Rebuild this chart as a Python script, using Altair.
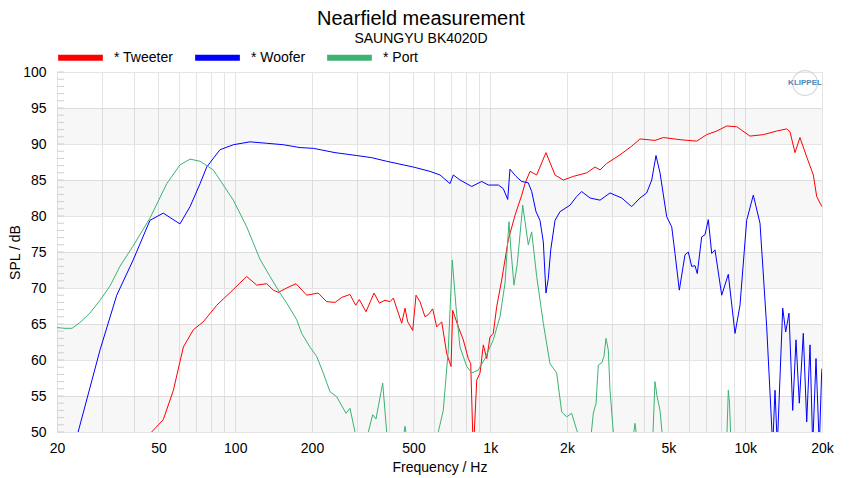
import altair as alt
import pandas as pd

# ---------------- data ----------------
TWEETER_F = [46.3, 47.0, 52.2, 57.2, 62.6, 68.5, 74.9, 84.6, 98.3, 110.9, 121.4, 132.9, 141.0, 147.5,
             159.2, 173.1, 190.6, 211.6, 228.3, 246.2, 261.6, 281.8, 296.8, 306.6, 325.6, 350.2, 367.3,
             386.6, 404.6, 416.8, 449.6, 463.2, 474.6, 496.6, 511.6, 530.2, 554.8, 571.6, 594.8, 616.6,
             645.2, 675, 701.8, 712.6, 749.4, 784, 820.2, 838.4, 858.2, 885.2, 912, 939.6, 968.8, 997.8,
             1028, 1060, 1109, 1177, 1251, 1329, 1369, 1432, 1521, 1654, 1795, 1934, 2118, 2391, 2577,
             2695, 2862, 3228, 3587, 3866, 4426, 4772, 5548, 6450, 7060, 7730, 8460, 9260, 10440, 11776,
             13288, 14540, 14980, 15672, 16394, 17420, 18492, 19066, 19644, 20000]
TWEETER_DB = [48, 50, 51.7, 55.8, 61.8, 64.2, 65.3, 67.6, 69.8, 71.6, 70.4, 70.6, 69.7, 69.4,
              70.0, 70.6, 69.0, 69.3, 68.1, 68.0, 68.7, 69.1, 67.6, 68.4, 66.7, 69.3, 67.9,
              68.3, 68.1, 68.6, 65.1, 67.2, 65.3, 64.1, 69.0, 68.1, 66.0, 66.3, 67.1, 64.6,
              65.3, 60.9, 59.1, 66.9, 64.6, 62.8, 60.2, 59.5, 47, 57.2, 58.2, 62.1, 60.2, 63.2,
              63.7, 67.4, 71.1, 76.7, 80.1, 82.9, 84.5, 86.2, 85.7, 88.8, 85.7, 85.0, 85.5, 86.0, 86.8,
              86.4, 87.3, 88.5, 89.7, 90.7, 90.5, 90.9, 90.6, 90.4, 91.3, 91.8, 92.5, 92.4, 91.1, 91.3,
              91.8, 92.1, 91.7, 88.8, 90.9, 88.2, 85.7, 82.7, 81.8, 81.3]

WOOFER_F = [22.5, 24.2, 29.5, 34.3, 39.8, 46.3, 52.2, 60.7, 66.5, 72.8, 77.3, 87.1, 98.3, 114.3, 132.9,
            154.4, 179.5, 202.4, 246.2, 299.4, 343.0, 392.6, 442.8, 499.3, 580.4, 635.4, 695.4, 716.4,
            761, 846, 925.8, 982.6, 1076, 1125, 1171, 1195, 1262, 1329, 1410, 1454, 1512, 1567, 1615,
            1654, 1689, 1727, 1795, 1877, 2055, 2182, 2283, 2462, 2695, 2949, 3278, 3587, 3866, 4107,
            4298, 4467, 4632, 4920, 5148, 5304, 5514, 5803, 5980, 6166, 6354, 6486, 6748, 6954, 7164,
            7388, 7610, 8086, 8582, 9118, 9537, 10132, 10756, 11426, 12138, 12816, 13084, 13358, 14026,
            14410, 14848, 15352, 15814, 16294, 16894, 17420, 17950, 18390, 18946, 19518, 19946, 20000]
WOOFER_DB = [46.5, 50, 61.4, 69.0, 73.9, 79.4, 80.4, 78.9, 81.3, 84.5, 86.8, 89.2, 89.9, 90.3, 90.1,
             89.9, 89.5, 89.4, 88.8, 88.4, 88.1, 87.6, 87.2, 86.8, 86.2, 85.7, 84.5, 85.7,
             85.0, 84.1, 84.8, 84.3, 84.3, 83.8, 82.3, 86.5, 85.5, 84.8, 84.6, 83.4, 80.6, 79.4, 76.4,
             69.3, 71.3, 75.3, 79.4, 80.6, 81.5, 82.7, 83.4, 82.5, 82.2, 83.2, 82.5, 81.3, 82.5, 83.2,
             85.0, 88.4, 86.0, 79.9, 78.5, 74.8, 69.7, 74.6, 75.0, 73.0, 73.1, 72.0, 77.1, 77.4, 79.5,
             74.8, 75.3, 69.0, 71.9, 63.7, 67.6, 79.4, 82.9, 79.0, 64.6, 48, 55.8, 48, 67.2,
             63.9, 66.5, 53.0, 62.8, 54.0, 63.7, 51.4, 62.1, 48, 60.2, 48, 58.4, 58.8]

PORT_F = [20.0, 21.5, 22.9, 24.6, 26.9, 29.5, 32.3, 35.3, 39.7, 46.3, 53.9, 60.7, 66.5, 72.8, 82.0,
          98.3, 110.9, 125.0, 136.9, 149.8, 159.2, 174.2, 182.2, 196.4, 208.6, 221.4, 235.2, 250.0,
          271.8, 281.8, 294.9, 308.6, 332.6, 346.0, 356.4, 378.7, 392.6, 412, 450.8, 463.2, 476, 530,
          625.6, 654.4, 684.6, 709.8, 734, 761, 808.8, 846, 897, 953.8, 1028, 1092, 1143, 1184, 1203,
          1239, 1277, 1341, 1410, 1454, 1521, 1615, 1715, 1822, 1906, 1994, 2086, 2182, 2248, 2354,
          2462, 2536, 2600, 2654, 2736, 2793, 2844, 2904, 2949, 3038, 3228, 3597, 3696, 3796, 4156,
          4349, 4426, 4508, 4632, 4716, 5068, 7962, 8484, 8582, 8678, 8756, 9118]
PORT_DB = [64.5, 64.4, 64.4, 65.2, 66.5, 68.3, 70.3, 73.0, 75.8, 79.7, 84.5, 87.1, 87.9, 87.6, 86.4,
           82.2, 78.5, 74.0, 71.6, 69.3, 67.9, 65.6, 63.7, 61.8, 60.5, 58.2, 55.6, 54.9,
           52.6, 53.3, 50, 45, 50, 52.4, 51.8, 56.8, 50, 45, 48, 50.8, 48, 45,
           50, 53, 61.4, 73.9, 67.4, 61.8, 59.1, 58.2, 58.6, 60.2, 62.8, 66.0, 70.7, 79.2, 75.7,
           70.4, 73.4, 81.5, 76.0, 77.8, 71.6, 65.1, 59.5, 58.2, 52.8, 52.1, 52.6, 50.3, 49, 45,
           48, 52.6, 54, 59.3, 59.6, 60.5, 63, 61.4, 55.8, 50, 45, 48, 51.2, 48, 45,
           50, 57, 55, 53, 50, 45, 45, 50, 55.8, 54, 50, 45]

SERIES = ["* Tweeter", "* Woofer", "* Port"]
COLORS = ["#ff0000", "#0000ff", "#3cb371"]

GRID_F = [20, 30, 40, 50, 60, 70, 80, 90, 100, 200, 300, 400, 500, 600, 700, 800, 900,
          1000, 2000, 3000, 4000, 5000, 6000, 7000, 8000, 9000, 10000, 20000]
LABEL_F = [20, 50, 100, 200, 500, 1000, 2000, 5000, 10000, 20000]
Y_TICKS = list(range(50, 101, 5))
MINOR_Y = list(range(50, 101, 1))
BAND_LO = [50, 60, 70, 80, 90]

# ---------------- build tables ----------------
rows = []
for name, fs, dbs in [(SERIES[0], TWEETER_F, TWEETER_DB),
                      (SERIES[1], WOOFER_F, WOOFER_DB),
                      (SERIES[2], PORT_F, PORT_DB)]:
    assert len(fs) == len(dbs), name
    for f, d in zip(fs, dbs):
        rows.append({"freq": f, "spl": d, "series": name})
df = pd.DataFrame(rows)
bands = pd.DataFrame({"lo": BAND_LO, "hi": [b + 5 for b in BAND_LO]})
minor = pd.DataFrame({"v": MINOR_Y})

W, H = 765, 360
FONT = "Liberation Sans"

x_scale = alt.Scale(type="log", domain=[20, 20000], nice=False)
y_scale = alt.Scale(domain=[50, 100], nice=False)

label_list = "[" + ",".join(str(v) for v in LABEL_F) + "]"
label_expr = (f"indexof({label_list}, datum.value) >= 0 ? "
              "(datum.value >= 1000 ? (datum.value/1000) + 'k' : datum.value + '') : ''")

x_axis = alt.Axis(values=GRID_F, labelExpr=label_expr, title="Frequency / Hz",
                  grid=True, gridColor="#e4e4e4", ticks=False, domain=False,
                  labelFontSize=14, titleFontSize=14, labelFont=FONT, titleFont=FONT,
                  labelColor="#000", titleColor="#000", titleFontWeight="normal",
                  labelPadding=9, titlePadding=5, labelFlush=False, labelOverlap=False)
y_axis = alt.Axis(values=Y_TICKS, title="SPL / dB", grid=True, gridColor="#e4e4e4",
                  ticks=False, domain=False, labelFontSize=14, titleFontSize=14,
                  labelFont=FONT, titleFont=FONT, labelColor="#000", titleColor="#000",
                  titleFontWeight="normal", labelPadding=11, titlePadding=0)

band_layer = alt.Chart(bands).mark_rect(color="#000000", opacity=0.03).encode(
    x=alt.value(0), x2=alt.value(W),
    y=alt.Y("lo:Q", scale=y_scale, axis=y_axis), y2="hi:Q")

minor_layer = alt.Chart(minor).mark_rule(color="#cfcfcf", strokeWidth=1).encode(
    x=alt.value(0), x2=alt.value(7),
    y=alt.Y("v:Q", scale=y_scale, axis=y_axis))

lines = alt.Chart(df).mark_line(strokeWidth=1, clip=True).encode(
    x=alt.X("freq:Q", scale=x_scale, axis=x_axis),
    y=alt.Y("spl:Q", scale=y_scale, axis=y_axis),
    color=alt.Color("series:N", scale=alt.Scale(domain=SERIES, range=COLORS),
                    legend=alt.Legend(orient="none", legendX=-2, legendY=-40,
                                      direction="horizontal", title=None,
                                      symbolType="stroke", symbolStrokeWidth=6,
                                      symbolSize=2000, labelFontSize=14, labelFont=FONT,
                                      labelColor="#000", columnPadding=9, labelOffset=8)),
    detail="series:N",
    order=alt.Order("freq:Q"))

logo_df = pd.DataFrame({"t": ["KLIPPEL"]})
logo_ring = alt.Chart(logo_df).mark_point(shape="circle", size=620, filled=False,
                                          color="#c9c9c9", strokeWidth=1.2).encode(
    x=alt.value(748), y=alt.value(11))
logo = alt.Chart(logo_df).mark_text(fontSize=8, fontWeight="bold", font=FONT,
                                    color="#4f86b5").encode(
    x=alt.value(748), y=alt.value(11), text="t:N")

chart = alt.layer(band_layer, minor_layer, lines, logo_ring, logo).properties(
    width=W, height=H,
    title=alt.TitleParams("Nearfield measurement", subtitle="SAUNGYU BK4020D",
                          fontSize=20, subtitleFontSize=14, font=FONT, subtitleFont=FONT,
                          fontWeight="normal", color="#000", subtitleColor="#000",
                          anchor="middle", frame="bounds", offset=0, dy=14, subtitlePadding=3),
    autosize=alt.AutoSizeParams(type="none"),
    padding={"left": 49, "top": 64, "right": 20, "bottom": 44},
).configure_view(stroke="#dcdcdc", strokeWidth=1).configure(background="white")

chart.save("out.html", embed_options={"renderer": "svg", "actions": False})
